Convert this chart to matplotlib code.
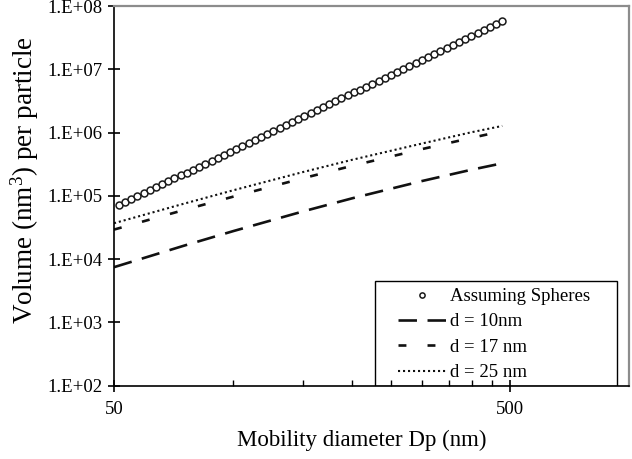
import matplotlib
matplotlib.use('Agg')
import matplotlib.pyplot as plt
from matplotlib.patches import Rectangle
from matplotlib.ticker import FixedLocator, FixedFormatter, NullFormatter, NullLocator

plt.rcParams['font.family'] = ['Liberation Serif', 'DejaVu Serif']
plt.rcParams['mathtext.default'] = 'regular'

# spheres: SMPS channel diameters (nm) and volumes (nm^3)
dp_sph = [51.4, 53.3, 55.2, 57.3, 59.4, 61.5, 63.8, 66.1, 68.5, 71.0,
          73.7, 76.4, 79.1, 82.0, 85.1, 88.2, 91.4, 94.7, 98.2, 101.8,
          105.5, 109.4, 113.4, 117.6, 121.9, 126.3, 131.0, 135.8, 140.7, 145.9,
          151.2, 156.8, 162.5, 168.5, 174.7, 181.1, 187.7, 194.6, 201.7, 209.1,
          216.7, 224.7, 232.9, 241.4, 250.3, 259.5, 269.0, 278.8, 289.0, 299.6,
          310.6, 322.0, 333.8, 346.0, 358.7, 371.8, 385.4, 399.5, 414.2, 429.4,
          445.1, 461.4, 478.3]
vol_sph = [7.11e4, 7.92e4, 8.83e4, 9.83e4, 1.095e5, 1.220e5, 1.359e5, 1.514e5, 1.686e5, 1.879e5,
           2.093e5, 2.331e5, 2.597e5, 2.893e5, 3.223e5, 3.589e5, 3.999e5, 4.455e5, 4.963e5, 5.527e5,
           6.158e5, 6.860e5, 7.642e5, 8.511e5, 9.482e5, 1.056e6, 1.177e6, 1.311e6, 1.460e6, 1.627e6,
           1.812e6, 2.018e6, 2.248e6, 2.505e6, 2.791e6, 3.108e6, 3.463e6, 3.857e6, 4.297e6, 4.786e6,
           5.332e6, 5.940e6, 6.617e6, 7.372e6, 8.212e6, 9.148e6, 1.019e7, 1.135e7, 1.265e7, 1.409e7,
           1.569e7, 1.748e7, 1.948e7, 2.170e7, 2.417e7, 2.692e7, 2.999e7, 3.341e7, 3.722e7, 4.146e7,
           4.618e7, 5.145e7, 5.731e7]

# aggregates with primary particle diameter d
dp_agg = [50, 75, 100, 150, 200, 300, 400, 478.3]
vol_d10 = [7.43e3, 1.62e4, 2.76e4, 5.65e4, 9.13e4, 1.71e5, 2.58e5, 3.26e5]
vol_d17 = [2.92e4, 5.94e4, 9.68e4, 1.89e5, 2.98e5, 5.47e5, 8.23e5, 1.05e6]
vol_d25 = [3.68e4, 7.48e4, 1.22e5, 2.37e5, 3.71e5, 6.70e5, 1.01e6, 1.27e6]

labels = ['Assuming Spheres', 'd = 10nm', 'd = 17 nm', 'd = 25 nm']

x_ticks = [50, 500]
x_ticklabels = ['50', '500']
x_minor = [100, 150, 200, 250, 300, 350, 400, 450]
y_ticks = [1e2, 1e3, 1e4, 1e5, 1e6, 1e7, 1e8]
y_ticklabels = ['1.E+02', '1.E+03', '1.E+04', '1.E+05', '1.E+06', '1.E+07', '1.E+08']

fig = plt.figure(figsize=(6.32, 4.59), dpi=100)
ax = fig.add_axes([0.1804, 0.1601, 0.8149, 0.8268])

ax.plot(dp_sph, vol_sph, 'o', ms=5.0, mfc='white', mec='#1a1a1a', mew=1.1,
        label=labels[0])
ax.plot(dp_agg, vol_d10, color='#111111', lw=1.9, dashes=(7, 4),
        label=labels[1])
ax.plot(dp_agg, vol_d17, color='#111111', lw=1.9, dashes=(3, 8),
        label=labels[2])
ax.plot(dp_agg, vol_d25, color='#111111', lw=1.5, dashes=(1, 1.4),
        label=labels[3])

ax.set_xscale('log')
ax.set_yscale('log')
ax.set_xlim(50, 1000)
ax.set_ylim(1e2, 1e8)

ax.xaxis.set_major_locator(FixedLocator(x_ticks))
ax.xaxis.set_major_formatter(FixedFormatter(x_ticklabels))
ax.xaxis.set_minor_locator(FixedLocator(x_minor))
ax.xaxis.set_minor_formatter(NullFormatter())
ax.yaxis.set_major_locator(FixedLocator(y_ticks))
ax.yaxis.set_major_formatter(FixedFormatter(y_ticklabels))
ax.yaxis.set_minor_locator(NullLocator())

ax.tick_params(which='major', direction='inout', length=8, width=1.2,
               labelsize=13.5, colors='black')
ax.tick_params(axis='y', which='major', pad=4)
ax.tick_params(axis='x', which='major', pad=7)
ax.tick_params(which='minor', direction='in', length=4, width=1.0)

for s in ['top', 'right']:
    ax.spines[s].set_color('#8c8c8c')
    ax.spines[s].set_linewidth(1.6)
for s in ['left', 'bottom']:
    ax.spines[s].set_color('black')
    ax.spines[s].set_linewidth(1.2)

ax.set_xlabel('Mobility diameter Dp (nm)', fontsize=16.5)
ax.xaxis.set_label_coords(0.4816, -0.117)
ax.set_ylabel('Volume (nm$^{3}$) per particle', fontsize=19.5)
ax.yaxis.set_label_coords(-0.142, 0.541)

# legend frame drawn separately so it can sit on the x axis
ax.add_patch(Rectangle((0.507, 0.0), 0.470, 0.275, transform=ax.transAxes,
                       fill=False, ec='black', lw=1.0, zorder=5))
leg = ax.legend(loc='upper left', bbox_to_anchor=(0.551, 0.257),
                frameon=False, fontsize=13.5, handlelength=2.6,
                handletextpad=0.2, labelspacing=0.44, borderpad=0,
                borderaxespad=0, numpoints=1, markerscale=0.75)

fig.savefig('out.png', dpi=100)
